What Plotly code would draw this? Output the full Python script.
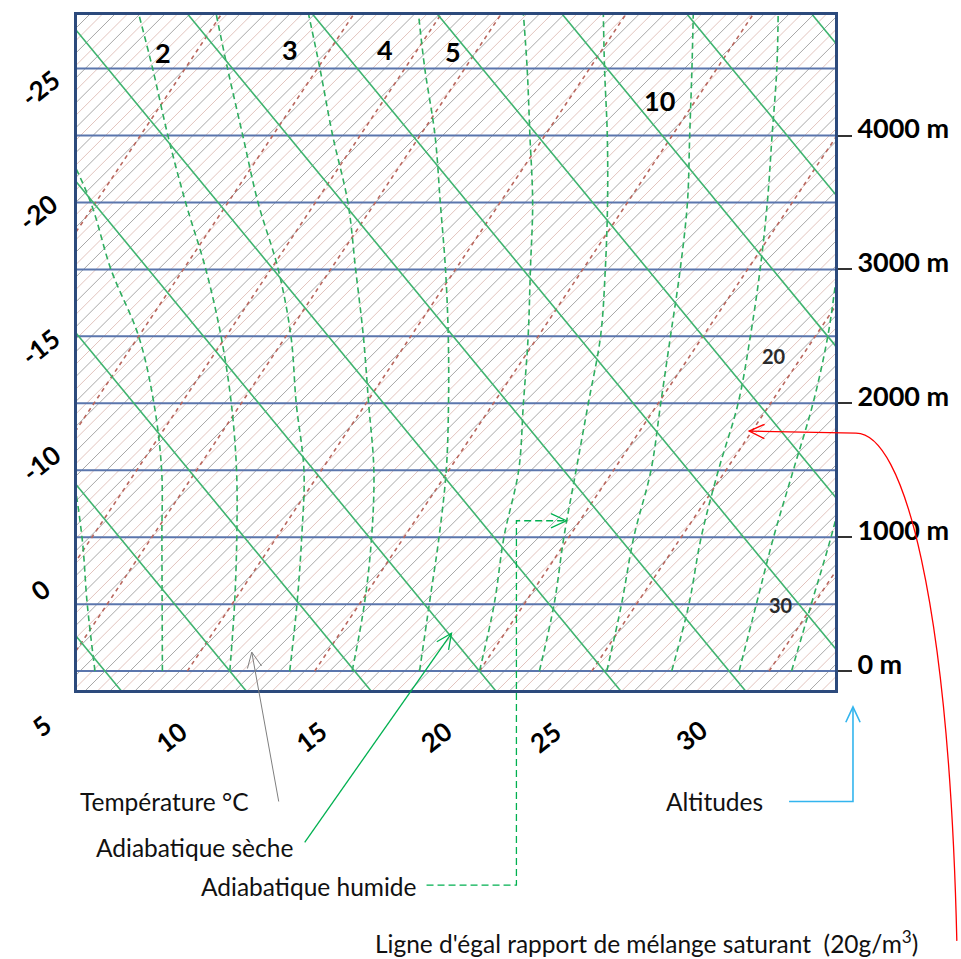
import math
import plotly.graph_objects as go

# ---------------------------------------------------------------------------
# Diagram values
# ---------------------------------------------------------------------------
SKEW = 0.00538        # °C per metre: isotherms are drawn at 45°
DRY_LAPSE = 0.0098    # °C per metre along a dry adiabat

ALTITUDE_LINES = [0, 500, 1000, 1500, 2000, 2500, 3000, 3500, 4000, 4500]   # m
ALTITUDE_TICKS = [0, 1000, 2000, 3000, 4000]
ALTITUDE_TEXT = ["0 m", "1000 m", "2000 m", "3000 m", "4000 m"]

ISOTHERMS = [t / 2 for t in range(-60, 80)]          # every 0.5 °C
DRY_ADIABATS = list(range(-10, 65, 5))               # °C at 0 m

MOIST_LEVELS = [0, 500, 1000, 1500, 2000, 2500, 3000, 3500, 4000, 4500, 4900]
MOIST_ADIABATS = [
    [4.6, 1.6, -1.3, -4.4, -7.8, -11.5, -15.3, -19.3, -23.5, -27.7, -31.2],
    [7.3, 4.6, 1.9, -0.8, -3.8, -7.1, -10.9, -14.4, -18.3, -22.2, -25.4],
    [10.0, 7.5, 4.9, 2.2, -0.7, -3.8, -7.1, -10.6, -14.0, -17.3, -20.0],
    [12.4, 10.0, 7.5, 4.9, 1.9, -1.0, -4.2, -7.7, -11.0, -14.3, -16.9],
    [14.9, 12.7, 10.3, 7.7, 4.8, 1.9, -1.1, -4.1, -7.4, -10.6, -13.2],
    [17.6, 15.3, 13.0, 10.6, 8.0, 5.3, 2.5, -0.4, -3.3, -6.4, -8.8],
    [20.0, 17.9, 15.6, 13.5, 11.0, 8.5, 5.9, 3.3, 0.5, -2.3, -4.6],
    [22.4, 20.3, 18.0, 15.8, 13.6, 11.4, 8.9, 6.3, 3.6, 0.8, -1.4],
    [25.1, 23.0, 20.8, 18.8, 16.5, 14.2, 11.9, 9.5, 6.9, 4.3, 2.2],
    [27.7, 25.7, 23.5, 21.5, 19.6, 17.4, 15.1, 12.7, 10.2, 7.7, 5.6],
    [30.4, 28.4, 26.4, 24.5, 22.6, 20.5, 18.2, 15.9, 13.5, 11.0, 9.0],
    [32.5, 30.6, 28.7, 26.7, 24.7, 22.5, 20.2, 17.9, 15.5, 13.0, 11.0],
]

# saturation mixing-ratio lines (g/kg): dew point at 0 m and at 5000 m
MIXING_RATIOS = [2, 3, 4, 5, 7, 10, 15, 20, 30]
DEW_AT_0M = [-7.9, -2.6, 0.9, 3.3, 8.3, 13.4, 20.0, 24.5, 31.6]
DEW_AT_5000M = [-16.9, -11.6, -8.1, -5.7, -0.7, 4.4, 11.0, 15.5, 22.6]
MIXING_LABELS = ["2", "3", "4", "5", "10", "20", "30"]

TEMP_LABELS = ["-25", "-20", "-15", "-10", "0", "5", "10", "15", "20", "25", "30"]

# ---------------------------------------------------------------------------
# Geometry of the page (pixels) and axis ranges
# ---------------------------------------------------------------------------
W, H = 961, 959
LEFT, RIGHT, TOP, BOTTOM = 77, 836, 12, 690
X_RANGE = [3.88, 34.24]        # °C on the skewed ground axis
Y_RANGE = [-141.3, 4900.0]     # m


def skew(t, z):
    return t + SKEW * z


def px(x):
    return (x - LEFT) / (RIGHT - LEFT)


def py(y):
    return (BOTTOM - y) / (BOTTOM - TOP)


def pt(p):
    return f"{px(p[0]):.5f},{py(p[1]):.5f}"


fig = go.Figure()


def add_family(xs_list, ys_list, color, width, dash="solid", shape="linear"):
    xs, ys = [], []
    for xx, yy in zip(xs_list, ys_list):
        xs += list(xx) + [None]
        ys += list(yy) + [None]
    fig.add_trace(go.Scatter(x=xs, y=ys, mode="lines", hoverinfo="skip",
                             line=dict(color=color, width=width, dash=dash,
                                       shape=shape),
                             showlegend=False, connectgaps=False))


Z_SPAN = [-400, 5200]

# isotherms: whole degrees grey, half degrees pale rose
whole = [t for t in ISOTHERMS if t == int(t)]
half = [t for t in ISOTHERMS if t != int(t)]
add_family([[skew(t, z) for z in Z_SPAN] for t in half],
           [Z_SPAN] * len(half), "rgba(210,165,155,0.65)", 1)
add_family([[skew(t, z) for z in Z_SPAN] for t in whole],
           [Z_SPAN] * len(whole), "rgba(110,110,110,0.6)", 1)

# altitude lines
add_family([[X_RANGE[0] - 1, X_RANGE[1] + 1] for _ in ALTITUDE_LINES],
           [[z, z] for z in ALTITUDE_LINES], "#5b76ad", 2)

# saturation mixing-ratio lines
add_family([[skew(d0, 0), skew(d5, 5000)] for d0, d5 in zip(DEW_AT_0M, DEW_AT_5000M)],
           [[0, 5000]] * len(MIXING_RATIOS), "#b9675e", 1.6, dash="4px,4px")

# moist adiabats
add_family([[skew(t, z) for t, z in zip(row, MOIST_LEVELS)] for row in MOIST_ADIABATS],
           [MOIST_LEVELS] * len(MOIST_ADIABATS), "#2fae60", 1.6,
           dash="6px,4px", shape="spline")

# dry adiabats
add_family([[skew(th - DRY_LAPSE * z, z) for z in Z_SPAN] for th in DRY_ADIABATS],
           [Z_SPAN] * len(DRY_ADIABATS), "#3fb36f", 1.6)

# ---------------------------------------------------------------------------
# Labels
# ---------------------------------------------------------------------------
annotations = []

temp_pos = [(40, 85), (38, 210), (40, 345), (41, 462), (40, 590), (41, 726),
            (171, 737), (311, 737), (436, 737), (546, 737), (692, 735)]
for txt, (x, y) in zip(TEMP_LABELS, temp_pos):
    annotations.append(dict(text=txt, x=px(x), y=py(y), xref="paper", yref="paper",
                            xanchor="center", yanchor="middle",
                            showarrow=False, textangle=-38,
                            font=dict(family="Lato", size=26, color="black",
                                      weight="bold")))

mix_pos = [(163, 50, 27), (290, 47, 27), (385, 47, 27), (453, 49, 27),
           (660, 98, 27), (775, 355, 20), (782, 605, 20)]
for txt, (x, y, s) in zip(MIXING_LABELS, mix_pos):
    annotations.append(dict(text=txt, x=px(x), y=py(y), xref="paper", yref="paper",
                            xanchor="center", yanchor="middle", showarrow=False,
                            font=dict(family="Lato", size=s,
                                      color="black" if s > 24 else "#2b2b2b",
                                      weight="bold")))

captions = [("Température °C", 78, 802),
            ("Adiabatique sèche", 94, 848),
            ("Adiabatique humide", 199, 887),
            ("Altitudes", 665, 802),
            ("Ligne d'égal rapport de mélange saturant  (20g/m<sup>3</sup>)", 373, 943)]
for txt, x, y in captions:
    annotations.append(dict(text=txt, x=px(x), y=py(y), xref="paper", yref="paper",
                            xanchor="left", yanchor="middle", showarrow=False,
                            font=dict(family="Lato", size=24.5, color="#111111")))

# ---------------------------------------------------------------------------
# Callout arrows (open heads)
# ---------------------------------------------------------------------------
shapes = []


def head_path(tip, prev, length=17, spread=25):
    dx, dy = prev[0] - tip[0], prev[1] - tip[1]
    n = math.hypot(dx, dy)
    ux, uy = dx / n, dy / n
    arms = []
    for sgn in (-1, 1):
        a = math.radians(spread) * sgn
        rx = ux * math.cos(a) - uy * math.sin(a)
        ry = ux * math.sin(a) + uy * math.cos(a)
        arms.append((tip[0] + length * rx, tip[1] + length * ry))
    return f"M{pt(arms[0])} L{pt(tip)} L{pt(arms[1])}"


def callout(points, color, width, dash=None, curve=None):
    if curve is None:
        body = "M" + " L".join(pt(p) for p in points)
    else:
        body = curve
    shapes.append(dict(type="path", xref="paper", yref="paper", path=body,
                       line=dict(color=color, width=width,
                                 dash=dash if dash else "solid")))
    shapes.append(dict(type="path", xref="paper", yref="paper",
                       path=head_path(points[-1], points[-2]),
                       line=dict(color=color, width=width)))


callout([(279, 802), (252, 652)], "#7f7f7f", 1.0)
callout([(305, 843), (452, 633)], "#00b050", 1.3)
callout([(427, 886), (517, 886), (517, 520), (567, 520)], "#00b050", 1.3,
        dash="7px,4px")
callout([(790, 802), (854, 802), (854, 707)], "#33b5ee", 1.6)
red_curve = (f"M{pt((958, 942))} C{pt((950, 600))} {pt((905, 432))} "
             f"{pt((857, 432))} L{pt((750, 430))}")
callout([(857, 432), (750, 430)], "#ff0000", 1.3, curve=red_curve)

fig.update_layout(
    width=W, height=H,
    margin=dict(l=LEFT, r=W - RIGHT, t=TOP, b=H - BOTTOM, pad=0),
    paper_bgcolor="white", plot_bgcolor="white",
    showlegend=False,
    annotations=annotations,
    shapes=shapes,
    xaxis=dict(range=X_RANGE, showgrid=False, zeroline=False, showticklabels=False,
               ticks="", showline=True, mirror=True, linecolor="#2c4a7c",
               linewidth=3, fixedrange=True),
    yaxis=dict(range=Y_RANGE, showgrid=False, zeroline=False, side="right",
               showline=True, mirror=True, linecolor="#2c4a7c", linewidth=3,
               tickmode="array", tickvals=ALTITUDE_TICKS, ticktext=ALTITUDE_TEXT,
               ticks="outside", ticklen=14, tickwidth=1.5, tickcolor="#333333",
               ticklabelshift=-7,
               tickfont=dict(family="Lato", size=27, color="black", weight="bold"),
               fixedrange=True),
)

fig.write_html("out.html")
